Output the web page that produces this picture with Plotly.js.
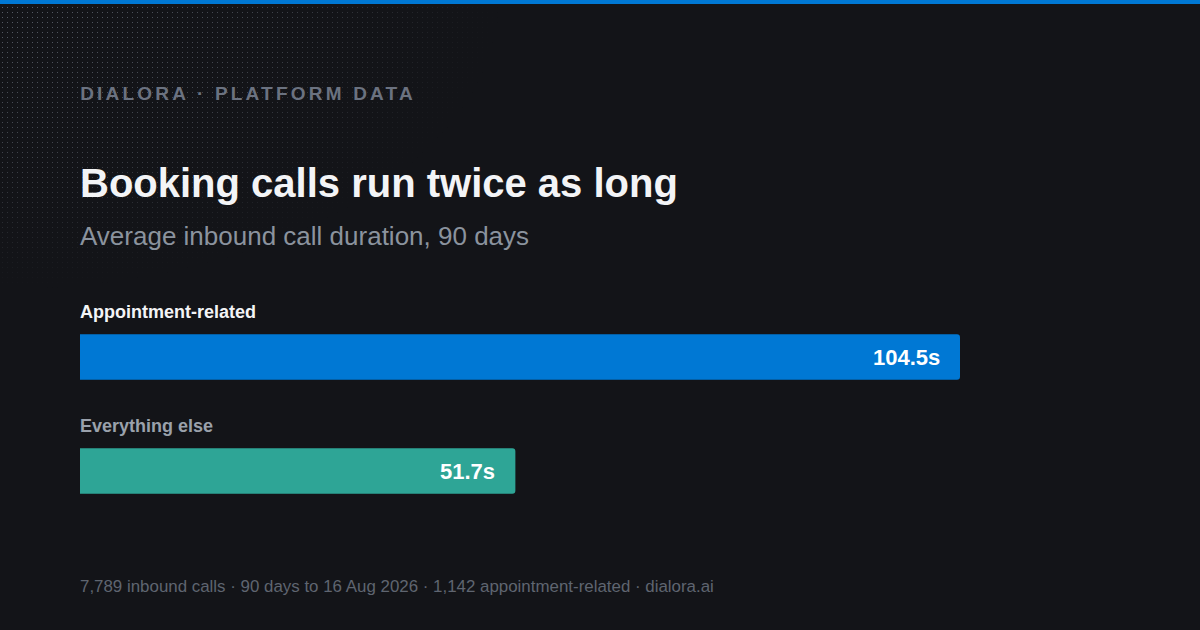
<!DOCTYPE html>
<html>
<head>
<meta charset="utf-8">
<script src="https://cdn.plot.ly/plotly-3.0.1.min.js"></script>
<style>
  html, body { margin: 0; padding: 0; background: #131418; }
  #wrap { position: relative; width: 1200px; height: 630px; background: #131418; overflow: hidden; }
  #topbar { position: absolute; left: 0; top: 0; width: 1200px; height: 4px; background: #0078d4; z-index: 3; }
  #dots {
    position: absolute; left: 0; top: 0; width: 1200px; height: 630px; z-index: 0;
    background-image: url("data:image/svg+xml;utf8,<svg xmlns='http://www.w3.org/2000/svg' width='5' height='5'><rect x='2' y='2' width='1' height='1' fill='%23646a75'/></svg>");
    background-size: 5px 5px;
    background-repeat: repeat;
    -webkit-mask-image: radial-gradient(ellipse 500px 290px at 0 0, rgba(0,0,0,0.85) 0%, rgba(0,0,0,0.55) 55%, rgba(0,0,0,0) 100%);
    mask-image: radial-gradient(ellipse 500px 290px at 0 0, rgba(0,0,0,0.85) 0%, rgba(0,0,0,0.55) 55%, rgba(0,0,0,0) 100%);
  }
  #chart { position: absolute; left: 0; top: 0; width: 1200px; height: 630px; z-index: 2; }
  .annotation[data-index="0"] text { letter-spacing: 3.2px; }
</style>
</head>
<body>
<div id="wrap">
  <div id="dots"></div>
  <div id="topbar"></div>
  <div id="chart"></div>
</div>
<script>
// ---- data ----
const categories = ["Appointment-related", "Everything else"];
const values = [104.5, 51.7];
const valueLabels = ["104.5s", "51.7s"];
const barColors = ["#0078d4", "#2ea596"];
const labelColors = ["#f3f4f6", "#9aa1ab"];

const eyebrow = "DIALORA · PLATFORM DATA";
const titleText = "Booking calls run twice as long";
const subtitleText = "Average inbound call duration, 90 days";
const footerText = "7,789 inbound calls · 90 days to 16 Aug 2026 · 1,142 appointment-related · dialora.ai";

const FONT = "Liberation Sans, Arial, Helvetica, sans-serif";
const LS = 3.2; // eyebrow letter spacing (must match CSS)

const trace = {
  type: "bar",
  orientation: "h",
  y: categories,
  x: values,
  width: 0.4,
  marker: { color: barColors, line: { width: 0 } },
  hoverinfo: "skip",
  showlegend: false
};

const annotations = [
  // 0: eyebrow (letter-spaced via CSS; compensate centred anchoring)
  { text: "<b>" + eyebrow + "</b>", xref: "paper", yref: "paper", x: 0, y: 1, xanchor: "left", yanchor: "middle",
    xshift: -2 + eyebrow.length * LS / 2, yshift: 300 - 93, showarrow: false, font: { family: FONT, size: 19, color: "#6b7280" } },
  { text: "<b>" + titleText + "</b>", xref: "paper", yref: "paper", x: 0, y: 1, xanchor: "left", yanchor: "middle",
    xshift: -2, yshift: 300 - 183, showarrow: false, font: { family: FONT, size: 40, color: "#f3f4f6" } },
  { text: subtitleText, xref: "paper", yref: "paper", x: 0, y: 1, xanchor: "left", yanchor: "middle",
    xshift: -2, yshift: 300 - 236, showarrow: false, font: { family: FONT, size: 26, color: "#8b939e" } },
  { text: footerText, xref: "paper", yref: "paper", x: 0, y: 0, xanchor: "left", yanchor: "middle",
    xshift: -2, yshift: 528 - 586, showarrow: false, font: { family: FONT, size: 16.9, color: "#5f6570" } }
];

categories.forEach((c, i) => {
  annotations.push({
    text: "<b>" + c + "</b>", xref: "paper", yref: "y", x: 0, y: c, xanchor: "left", yanchor: "middle",
    xshift: -2, yshift: 45.5, showarrow: false, font: { family: FONT, size: 18, color: labelColors[i] }
  });
  annotations.push({
    text: "<b>" + valueLabels[i] + "</b>", xref: "x", yref: "y", x: values[i], y: c, xanchor: "right", yanchor: "middle",
    xshift: -18.5, showarrow: false, font: { family: FONT, size: 22, color: "#ffffff" }
  });
});

const layout = {
  width: 1200,
  height: 630,
  margin: { l: 80, r: 240, t: 300, b: 102, pad: 0 },
  paper_bgcolor: "rgba(0,0,0,0)",
  plot_bgcolor: "rgba(0,0,0,0)",
  barcornerradius: 3,
  xaxis: { range: [0, 104.5], visible: false, fixedrange: true },
  yaxis: { type: "category", range: [1.5, -0.5], visible: false, fixedrange: true },
  font: { family: FONT },
  annotations: annotations,
  showlegend: false
};

Plotly.newPlot("chart", [trace], layout, { displayModeBar: false, staticPlot: true });
</script>
</body>
</html>
